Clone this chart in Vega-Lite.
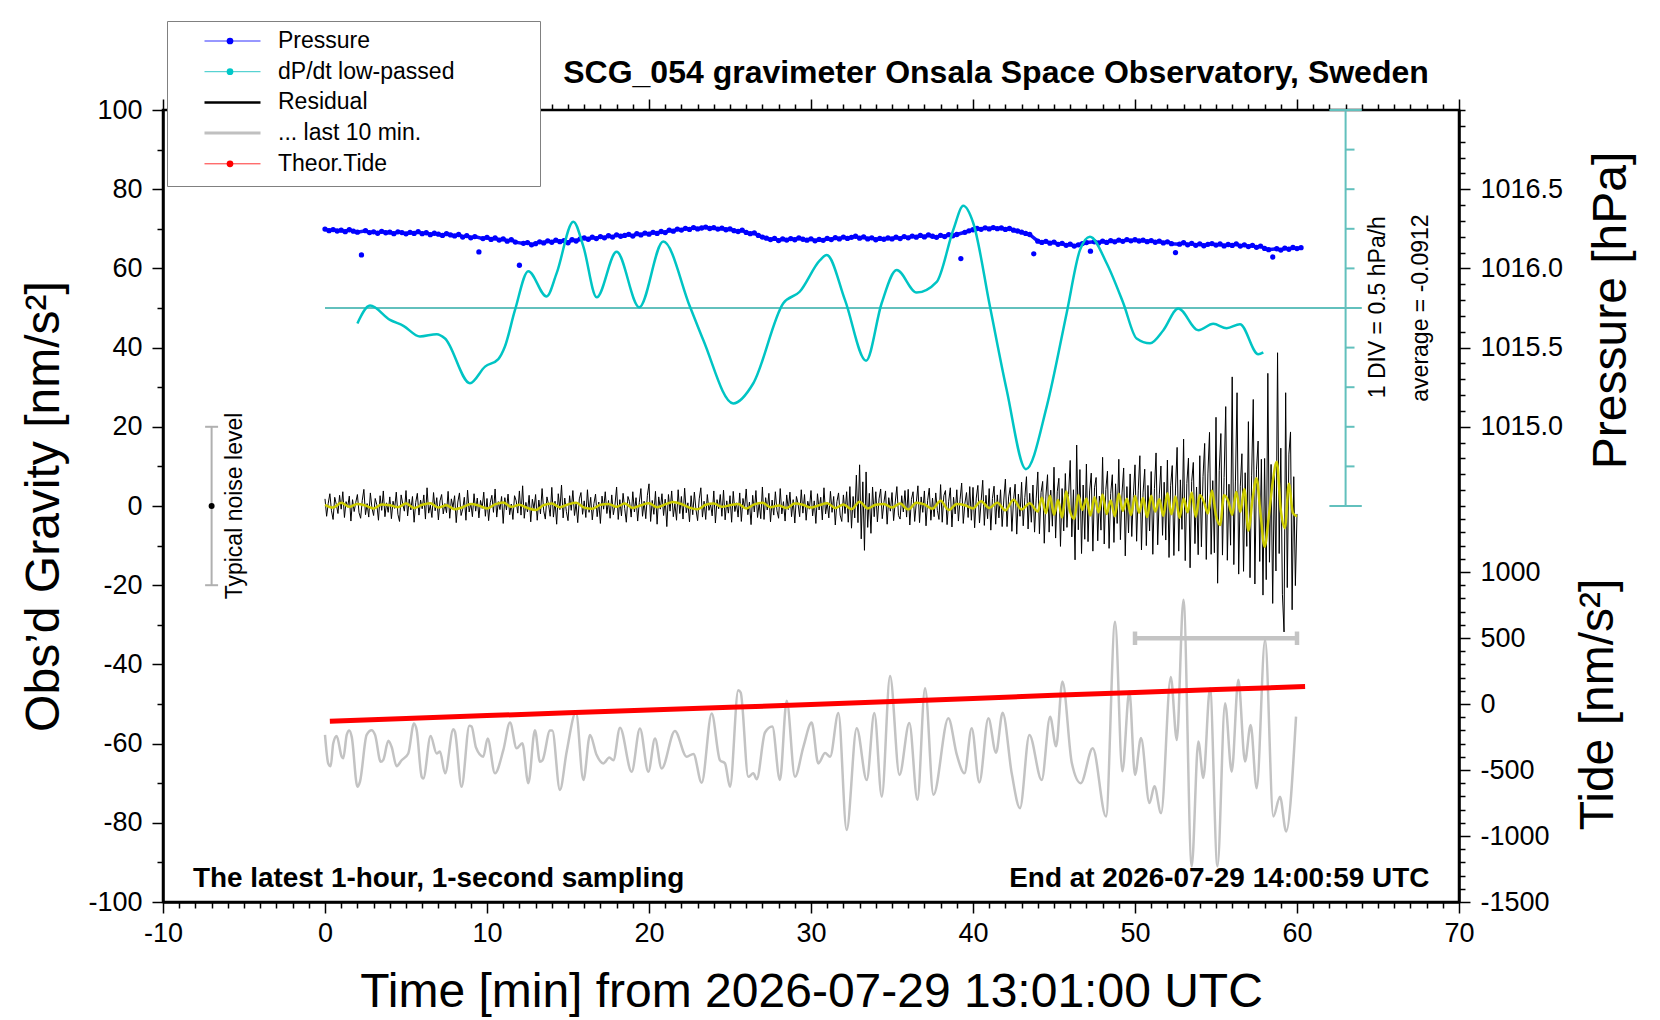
{
  "$schema": "https://vega.github.io/schema/vega-lite/v6.json",
  "width": 1296,
  "height": 792,
  "autosize": {"type": "none"},
  "padding": {"left": 163, "top": 110, "right": 201, "bottom": 118},
  "background": "white",
  "title": {
    "text": "SCG_054 gravimeter Onsala Space Observatory, Sweden",
    "font": "Liberation Sans",
    "fontSize": 32,
    "fontWeight": "bold",
    "color": "black",
    "anchor": "middle",
    "frame": "group",
    "dx": 185,
    "offset": -94.2,
    "baseline": "alphabetic"
  },
  "datasets": {
    "pressure": [
      {"t":0,"p":1016.248},{"t":0.25,"p":1016.238},{"t":0.5,"p":1016.245},{"t":0.75,"p":1016.236},{"t":1,"p":1016.241},{"t":1.25,"p":1016.232},{"t":1.5,"p":1016.244},{"t":1.75,"p":1016.235},
      {"t":2,"p":1016.229},{"t":2.25,"p":1016.085},{"t":2.5,"p":1016.238},{"t":2.75,"p":1016.226},{"t":3,"p":1016.231},{"t":3.25,"p":1016.222},{"t":3.5,"p":1016.234},{"t":3.75,"p":1016.225},
      {"t":4,"p":1016.229},{"t":4.25,"p":1016.219},{"t":4.5,"p":1016.231},{"t":4.75,"p":1016.226},{"t":5,"p":1016.218},{"t":5.25,"p":1016.228},{"t":5.5,"p":1016.221},{"t":5.75,"p":1016.232},
      {"t":6,"p":1016.219},{"t":6.25,"p":1016.225},{"t":6.5,"p":1016.213},{"t":6.75,"p":1016.222},{"t":7,"p":1016.216},{"t":7.25,"p":1016.208},{"t":7.5,"p":1016.219},{"t":7.75,"p":1016.211},
      {"t":8,"p":1016.205},{"t":8.25,"p":1016.214},{"t":8.5,"p":1016.198},{"t":8.75,"p":1016.207},{"t":9,"p":1016.193},{"t":9.25,"p":1016.201},{"t":9.5,"p":1016.104},{"t":9.75,"p":1016.188},
      {"t":10,"p":1016.196},{"t":10.25,"p":1016.183},{"t":10.5,"p":1016.192},{"t":10.75,"p":1016.179},{"t":11,"p":1016.186},{"t":11.25,"p":1016.172},{"t":11.5,"p":1016.181},{"t":11.75,"p":1016.166},
      {"t":12,"p":1016.02},{"t":12.25,"p":1016.158},{"t":12.5,"p":1016.163},{"t":12.75,"p":1016.149},{"t":13,"p":1016.156},{"t":13.25,"p":1016.168},{"t":13.5,"p":1016.161},{"t":13.75,"p":1016.174},
      {"t":14,"p":1016.165},{"t":14.25,"p":1016.178},{"t":14.5,"p":1016.169},{"t":14.75,"p":1016.176},{"t":15,"p":1016.162},{"t":15.25,"p":1016.181},{"t":15.5,"p":1016.173},{"t":15.75,"p":1016.186},
      {"t":16,"p":1016.192},{"t":16.25,"p":1016.184},{"t":16.5,"p":1016.197},{"t":16.75,"p":1016.188},{"t":17,"p":1016.201},{"t":17.25,"p":1016.193},{"t":17.5,"p":1016.206},{"t":17.75,"p":1016.198},
      {"t":18,"p":1016.212},{"t":18.25,"p":1016.203},{"t":18.5,"p":1016.208},{"t":18.75,"p":1016.215},{"t":19,"p":1016.204},{"t":19.25,"p":1016.219},{"t":19.5,"p":1016.211},{"t":19.75,"p":1016.223},
      {"t":20,"p":1016.216},{"t":20.25,"p":1016.228},{"t":20.5,"p":1016.221},{"t":20.75,"p":1016.233},{"t":21,"p":1016.226},{"t":21.25,"p":1016.241},{"t":21.5,"p":1016.235},{"t":21.75,"p":1016.248},
      {"t":22,"p":1016.242},{"t":22.25,"p":1016.253},{"t":22.5,"p":1016.246},{"t":22.75,"p":1016.258},{"t":23,"p":1016.249},{"t":23.25,"p":1016.255},{"t":23.5,"p":1016.261},{"t":23.75,"p":1016.252},
      {"t":24,"p":1016.257},{"t":24.25,"p":1016.248},{"t":24.5,"p":1016.254},{"t":24.75,"p":1016.244},{"t":25,"p":1016.249},{"t":25.25,"p":1016.238},{"t":25.5,"p":1016.233},{"t":25.75,"p":1016.241},
      {"t":26,"p":1016.227},{"t":26.25,"p":1016.219},{"t":26.5,"p":1016.224},{"t":26.75,"p":1016.208},{"t":27,"p":1016.198},{"t":27.25,"p":1016.191},{"t":27.5,"p":1016.182},{"t":27.75,"p":1016.189},
      {"t":28,"p":1016.176},{"t":28.25,"p":1016.186},{"t":28.5,"p":1016.179},{"t":28.75,"p":1016.188},{"t":29,"p":1016.181},{"t":29.25,"p":1016.192},{"t":29.5,"p":1016.184},{"t":29.75,"p":1016.178},
      {"t":30,"p":1016.187},{"t":30.25,"p":1016.174},{"t":30.5,"p":1016.183},{"t":30.75,"p":1016.177},{"t":31,"p":1016.189},{"t":31.25,"p":1016.182},{"t":31.5,"p":1016.194},{"t":31.75,"p":1016.186},
      {"t":32,"p":1016.198},{"t":32.25,"p":1016.189},{"t":32.5,"p":1016.196},{"t":32.75,"p":1016.203},{"t":33,"p":1016.191},{"t":33.25,"p":1016.199},{"t":33.5,"p":1016.186},{"t":33.75,"p":1016.193},
      {"t":34,"p":1016.181},{"t":34.25,"p":1016.189},{"t":34.5,"p":1016.184},{"t":34.75,"p":1016.192},{"t":35,"p":1016.186},{"t":35.25,"p":1016.197},{"t":35.5,"p":1016.188},{"t":35.75,"p":1016.201},
      {"t":36,"p":1016.193},{"t":36.25,"p":1016.204},{"t":36.5,"p":1016.197},{"t":36.75,"p":1016.208},{"t":37,"p":1016.199},{"t":37.25,"p":1016.211},{"t":37.5,"p":1016.203},{"t":37.75,"p":1016.196},
      {"t":38,"p":1016.209},{"t":38.25,"p":1016.201},{"t":38.5,"p":1016.213},{"t":38.75,"p":1016.206},{"t":39,"p":1016.214},{"t":39.25,"p":1016.062},{"t":39.5,"p":1016.228},{"t":39.75,"p":1016.237},
      {"t":40,"p":1016.244},{"t":40.25,"p":1016.252},{"t":40.5,"p":1016.247},{"t":40.75,"p":1016.256},{"t":41,"p":1016.249},{"t":41.25,"p":1016.258},{"t":41.5,"p":1016.251},{"t":41.75,"p":1016.255},
      {"t":42,"p":1016.246},{"t":42.25,"p":1016.252},{"t":42.5,"p":1016.241},{"t":42.75,"p":1016.236},{"t":43,"p":1016.229},{"t":43.25,"p":1016.221},{"t":43.5,"p":1016.214},{"t":43.75,"p":1016.092},
      {"t":44,"p":1016.172},{"t":44.25,"p":1016.164},{"t":44.5,"p":1016.171},{"t":44.75,"p":1016.159},{"t":45,"p":1016.166},{"t":45.25,"p":1016.152},{"t":45.5,"p":1016.158},{"t":45.75,"p":1016.146},
      {"t":46,"p":1016.153},{"t":46.25,"p":1016.141},{"t":46.5,"p":1016.149},{"t":46.75,"p":1016.157},{"t":47,"p":1016.163},{"t":47.25,"p":1016.109},{"t":47.5,"p":1016.168},{"t":47.75,"p":1016.161},
      {"t":48,"p":1016.172},{"t":48.25,"p":1016.164},{"t":48.5,"p":1016.175},{"t":48.75,"p":1016.168},{"t":49,"p":1016.179},{"t":49.25,"p":1016.171},{"t":49.5,"p":1016.182},{"t":49.75,"p":1016.174},
      {"t":50,"p":1016.181},{"t":50.25,"p":1016.173},{"t":50.5,"p":1016.178},{"t":50.75,"p":1016.169},{"t":51,"p":1016.176},{"t":51.25,"p":1016.165},{"t":51.5,"p":1016.172},{"t":51.75,"p":1016.161},
      {"t":52,"p":1016.168},{"t":52.25,"p":1016.156},{"t":52.5,"p":1016.1},{"t":52.75,"p":1016.153},{"t":53,"p":1016.162},{"t":53.25,"p":1016.149},{"t":53.5,"p":1016.158},{"t":53.75,"p":1016.146},
      {"t":54,"p":1016.155},{"t":54.25,"p":1016.143},{"t":54.5,"p":1016.152},{"t":54.75,"p":1016.157},{"t":55,"p":1016.147},{"t":55.25,"p":1016.154},{"t":55.5,"p":1016.142},{"t":55.75,"p":1016.151},
      {"t":56,"p":1016.145},{"t":56.25,"p":1016.155},{"t":56.5,"p":1016.141},{"t":56.75,"p":1016.149},{"t":57,"p":1016.138},{"t":57.25,"p":1016.146},{"t":57.5,"p":1016.133},{"t":57.75,"p":1016.141},
      {"t":58,"p":1016.126},{"t":58.25,"p":1016.118},{"t":58.5,"p":1016.072},{"t":58.75,"p":1016.124},{"t":59,"p":1016.116},{"t":59.25,"p":1016.128},{"t":59.5,"p":1016.121},{"t":59.75,"p":1016.132},
      {"t":60,"p":1016.125},{"t":60.25,"p":1016.131}
    ],
    "residual": [
      {"t":0,"g":1.8},{"t":0.1,"g":-2.6},{"t":0.2,"g":0.7},{"t":0.3,"g":3.1},{"t":0.4,"g":-1.2},{"t":0.5,"g":-3.4},{"t":0.6,"g":2.2},{"t":0.7,"g":0.4},{"t":0.8,"g":-1.9},{"t":0.9,"g":2.7},
      {"t":1,"g":-0.8},{"t":1.1,"g":3.6},{"t":1.2,"g":-2.9},{"t":1.3,"g":1.1},{"t":1.4,"g":-0.3},{"t":1.5,"g":2.5},{"t":1.6,"g":-3.8},{"t":1.7,"g":1.6},{"t":1.8,"g":-1.4},{"t":1.9,"g":0.9},
      {"t":2,"g":2.9},{"t":2.1,"g":-1.7},{"t":2.2,"g":-3.1},{"t":2.3,"g":1.4},{"t":2.4,"g":4.2},{"t":2.5,"g":-2.2},{"t":2.6,"g":0.6},{"t":2.7,"g":-2.8},{"t":2.8,"g":3.3},{"t":2.9,"g":-0.5},
      {"t":3,"g":-2.4},{"t":3.1,"g":1.9},{"t":3.2,"g":0.3},{"t":3.3,"g":-3.6},{"t":3.4,"g":2.6},{"t":3.5,"g":-1.1},{"t":3.6,"g":3.8},{"t":3.7,"g":-2.7},{"t":3.8,"g":0.8},{"t":3.9,"g":-1.6},
      {"t":4,"g":2.3},{"t":4.1,"g":-3.2},{"t":4.2,"g":1.2},{"t":4.3,"g":-0.6},{"t":4.4,"g":3.5},{"t":4.5,"g":-2.1},{"t":4.6,"g":-3.9},{"t":4.7,"g":2.8},{"t":4.8,"g":0.5},{"t":4.9,"g":-1.3},
      {"t":5,"g":3.9},{"t":5.1,"g":-2.5},{"t":5.2,"g":1.7},{"t":5.3,"g":-1.0},{"t":5.4,"g":2.4},{"t":5.5,"g":-4.1},{"t":5.6,"g":0.9},{"t":5.7,"g":3.2},{"t":5.8,"g":-2.3},{"t":5.9,"g":1.5},
      {"t":6,"g":-0.7},{"t":6.1,"g":2.8},{"t":6.2,"g":-3.3},{"t":6.3,"g":4.6},{"t":6.4,"g":-1.8},{"t":6.5,"g":0.2},{"t":6.6,"g":-2.9},{"t":6.7,"g":3.4},{"t":6.8,"g":-1.2},{"t":6.9,"g":2.1},
      {"t":7,"g":-3.5},{"t":7.1,"g":1.3},{"t":7.2,"g":2.9},{"t":7.3,"g":-2.0},{"t":7.4,"g":0.6},{"t":7.5,"g":-1.7},{"t":7.6,"g":3.7},{"t":7.7,"g":-3.1},{"t":7.8,"g":1.8},{"t":7.9,"g":-0.4},
      {"t":8,"g":2.6},{"t":8.1,"g":-4.2},{"t":8.2,"g":1.0},{"t":8.3,"g":3.3},{"t":8.4,"g":-2.4},{"t":8.5,"g":-0.8},{"t":8.6,"g":2.2},{"t":8.7,"g":-3.6},{"t":8.8,"g":4.0},{"t":8.9,"g":-1.5},
      {"t":9,"g":0.7},{"t":9.1,"g":-2.7},{"t":9.2,"g":3.1},{"t":9.3,"g":-1.3},{"t":9.4,"g":2.0},{"t":9.5,"g":-3.0},{"t":9.6,"g":1.4},{"t":9.7,"g":-0.6},{"t":9.8,"g":3.5},{"t":9.9,"g":-2.6},
      {"t":10,"g":1.9},{"t":10.1,"g":-3.7},{"t":10.2,"g":0.8},{"t":10.3,"g":2.7},{"t":10.4,"g":-1.6},{"t":10.5,"g":4.3},{"t":10.6,"g":-2.8},{"t":10.7,"g":1.1},{"t":10.8,"g":-0.9},{"t":10.9,"g":2.4},
      {"t":11,"g":-4.4},{"t":11.1,"g":2.1},{"t":11.2,"g":-1.0},{"t":11.3,"g":3.0},{"t":11.4,"g":-2.2},{"t":11.5,"g":0.5},{"t":11.6,"g":-3.4},{"t":11.7,"g":2.6},{"t":11.8,"g":1.3},{"t":11.9,"g":-1.8},
      {"t":12,"g":3.8},{"t":12.1,"g":-2.3},{"t":12.2,"g":5.1},{"t":12.3,"g":-3.1},{"t":12.4,"g":0.9},{"t":12.5,"g":-1.5},{"t":12.6,"g":2.7},{"t":12.7,"g":-4.0},{"t":12.8,"g":1.7},{"t":12.9,"g":-0.7},
      {"t":13,"g":2.9},{"t":13.1,"g":-3.6},{"t":13.2,"g":1.5},{"t":13.3,"g":-2.0},{"t":13.4,"g":4.4},{"t":13.5,"g":-1.2},{"t":13.6,"g":-3.3},{"t":13.7,"g":2.3},{"t":13.8,"g":0.4},{"t":13.9,"g":-2.6},
      {"t":14,"g":4.7},{"t":14.1,"g":-2.8},{"t":14.2,"g":1.2},{"t":14.3,"g":-4.6},{"t":14.4,"g":3.1},{"t":14.5,"g":-0.9},{"t":14.6,"g":5.3},{"t":14.7,"g":-3.0},{"t":14.8,"g":2.0},{"t":14.9,"g":-1.4},
      {"t":15,"g":-3.7},{"t":15.1,"g":2.6},{"t":15.2,"g":-1.1},{"t":15.3,"g":3.9},{"t":15.4,"g":-2.4},{"t":15.5,"g":0.7},{"t":15.6,"g":-4.2},{"t":15.7,"g":1.8},{"t":15.8,"g":3.4},{"t":15.9,"g":-2.1},
      {"t":16,"g":1.3},{"t":16.1,"g":-2.9},{"t":16.2,"g":4.1},{"t":16.3,"g":-1.6},{"t":16.4,"g":2.2},{"t":16.5,"g":-3.5},{"t":16.6,"g":0.6},{"t":16.7,"g":3.0},{"t":16.8,"g":-2.7},{"t":16.9,"g":1.0},
      {"t":17,"g":-4.4},{"t":17.1,"g":2.5},{"t":17.2,"g":-0.8},{"t":17.3,"g":3.6},{"t":17.4,"g":-1.9},{"t":17.5,"g":1.4},{"t":17.6,"g":-3.1},{"t":17.7,"g":2.8},{"t":17.8,"g":-2.2},{"t":17.9,"g":0.3},
      {"t":18,"g":4.8},{"t":18.1,"g":-3.4},{"t":18.2,"g":1.6},{"t":18.3,"g":-2.5},{"t":18.4,"g":3.2},{"t":18.5,"g":-0.6},{"t":18.6,"g":-4.1},{"t":18.7,"g":2.4},{"t":18.8,"g":1.1},{"t":18.9,"g":-2.8},
      {"t":19,"g":3.6},{"t":19.1,"g":-1.5},{"t":19.2,"g":2.1},{"t":19.3,"g":-3.8},{"t":19.4,"g":0.9},{"t":19.5,"g":4.4},{"t":19.6,"g":-2.6},{"t":19.7,"g":1.2},{"t":19.8,"g":-3.2},{"t":19.9,"g":2.7},
      {"t":20,"g":5.6},{"t":20.1,"g":-3.9},{"t":20.2,"g":1.4},{"t":20.3,"g":-2.1},{"t":20.4,"g":3.7},{"t":20.5,"g":-4.6},{"t":20.6,"g":2.3},{"t":20.7,"g":-0.8},{"t":20.8,"g":3.1},{"t":20.9,"g":-2.4},
      {"t":21,"g":1.7},{"t":21.1,"g":-5.2},{"t":21.2,"g":2.9},{"t":21.3,"g":-1.3},{"t":21.4,"g":3.8},{"t":21.5,"g":-2.7},{"t":21.6,"g":0.6},{"t":21.7,"g":-3.6},{"t":21.8,"g":4.1},{"t":21.9,"g":-1.9},
      {"t":22,"g":2.4},{"t":22.1,"g":-3.3},{"t":22.2,"g":4.5},{"t":22.3,"g":-1.7},{"t":22.4,"g":0.8},{"t":22.5,"g":-4.0},{"t":22.6,"g":2.6},{"t":22.7,"g":-2.2},{"t":22.8,"g":3.5},{"t":22.9,"g":-0.9},
      {"t":23,"g":-3.7},{"t":23.1,"g":1.8},{"t":23.2,"g":4.6},{"t":23.3,"g":-2.8},{"t":23.4,"g":1.2},{"t":23.5,"g":-3.4},{"t":23.6,"g":2.9},{"t":23.7,"g":-1.1},{"t":23.8,"g":0.5},{"t":23.9,"g":-2.5},
      {"t":24,"g":3.8},{"t":24.1,"g":-4.3},{"t":24.2,"g":1.6},{"t":24.3,"g":-0.7},{"t":24.4,"g":2.9},{"t":24.5,"g":-2.6},{"t":24.6,"g":4.0},{"t":24.7,"g":-3.5},{"t":24.8,"g":1.3},{"t":24.9,"g":-1.8},
      {"t":25,"g":2.6},{"t":25.1,"g":-4.1},{"t":25.2,"g":3.7},{"t":25.3,"g":-1.4},{"t":25.4,"g":0.8},{"t":25.5,"g":-2.8},{"t":25.6,"g":3.3},{"t":25.7,"g":-3.9},{"t":25.8,"g":1.9},{"t":25.9,"g":-0.6},
      {"t":26,"g":4.3},{"t":26.1,"g":-2.2},{"t":26.2,"g":1.0},{"t":26.3,"g":-4.7},{"t":26.4,"g":2.7},{"t":26.5,"g":-1.5},{"t":26.6,"g":3.9},{"t":26.7,"g":-2.9},{"t":26.8,"g":0.7},{"t":26.9,"g":-3.2},
      {"t":27,"g":4.8},{"t":27.1,"g":-3.4},{"t":27.2,"g":2.1},{"t":27.3,"g":-1.0},{"t":27.4,"g":3.2},{"t":27.5,"g":-4.0},{"t":27.6,"g":1.5},{"t":27.7,"g":-2.3},{"t":27.8,"g":3.6},{"t":27.9,"g":-1.2},
      {"t":28,"g":-3.1},{"t":28.1,"g":4.4},{"t":28.2,"g":-2.0},{"t":28.3,"g":1.1},{"t":28.4,"g":-3.8},{"t":28.5,"g":2.8},{"t":28.6,"g":-0.9},{"t":28.7,"g":3.5},{"t":28.8,"g":-2.7},{"t":28.9,"g":1.6},
      {"t":29,"g":-4.3},{"t":29.1,"g":2.4},{"t":29.2,"g":0.6},{"t":29.3,"g":-2.7},{"t":29.4,"g":4.1},{"t":29.5,"g":-1.8},{"t":29.6,"g":2.9},{"t":29.7,"g":-3.6},{"t":29.8,"g":1.2},{"t":29.9,"g":-0.8},
      {"t":30,"g":3.9},{"t":30.1,"g":-2.5},{"t":30.2,"g":1.3},{"t":30.3,"g":-4.4},{"t":30.4,"g":3.1},{"t":30.5,"g":-1.0},{"t":30.6,"g":2.2},{"t":30.7,"g":-3.5},{"t":30.8,"g":4.6},{"t":30.9,"g":-2.0},
      {"t":31,"g":0.9},{"t":31.1,"g":-3.0},{"t":31.2,"g":3.7},{"t":31.3,"g":-1.6},{"t":31.4,"g":2.4},{"t":31.5,"g":-4.8},{"t":31.6,"g":1.1},{"t":31.7,"g":3.3},{"t":31.8,"g":-2.3},{"t":31.9,"g":-3.9},
      {"t":32,"g":2.8},{"t":32.1,"g":-1.9},{"t":32.2,"g":3.6},{"t":32.3,"g":-4.1},{"t":32.4,"g":4.9},{"t":32.5,"g":-5.6},{"t":32.6,"g":2.4},{"t":32.7,"g":-3.0},{"t":32.8,"g":7.8},{"t":32.9,"g":-4.2},
      {"t":33,"g":10.4},{"t":33.1,"g":-8.3},{"t":33.2,"g":6.1},{"t":33.3,"g":-11.2},{"t":33.4,"g":8.6},{"t":33.5,"g":-5.4},{"t":33.6,"g":3.2},{"t":33.7,"g":-6.9},{"t":33.8,"g":4.8},{"t":33.9,"g":-2.7},
      {"t":34,"g":3.6},{"t":34.1,"g":-4.0},{"t":34.2,"g":1.8},{"t":34.3,"g":4.3},{"t":34.4,"g":-3.2},{"t":34.5,"g":0.9},{"t":34.6,"g":3.8},{"t":34.7,"g":-4.6},{"t":34.8,"g":2.1},{"t":34.9,"g":-1.3},
      {"t":35,"g":3.4},{"t":35.1,"g":-3.7},{"t":35.2,"g":1.0},{"t":35.3,"g":4.9},{"t":35.4,"g":-2.4},{"t":35.5,"g":-3.3},{"t":35.6,"g":2.6},{"t":35.7,"g":-1.5},{"t":35.8,"g":3.9},{"t":35.9,"g":-2.8},
      {"t":36,"g":4.2},{"t":36.1,"g":-4.8},{"t":36.2,"g":1.7},{"t":36.3,"g":3.6},{"t":36.4,"g":-3.9},{"t":36.5,"g":0.8},{"t":36.6,"g":5.1},{"t":36.7,"g":-4.2},{"t":36.8,"g":2.3},{"t":36.9,"g":-1.6},
      {"t":37,"g":3.8},{"t":37.1,"g":-5.0},{"t":37.2,"g":1.4},{"t":37.3,"g":4.5},{"t":37.4,"g":-3.6},{"t":37.5,"g":2.0},{"t":37.6,"g":-2.7},{"t":37.7,"g":3.3},{"t":37.8,"g":-1.1},{"t":37.9,"g":-3.4},
      {"t":38,"g":5.4},{"t":38.1,"g":-4.1},{"t":38.2,"g":2.6},{"t":38.3,"g":3.9},{"t":38.4,"g":-4.7},{"t":38.5,"g":1.2},{"t":38.6,"g":4.6},{"t":38.7,"g":-5.3},{"t":38.8,"g":2.2},{"t":38.9,"g":-2.0},
      {"t":39,"g":4.1},{"t":39.1,"g":-3.8},{"t":39.2,"g":1.6},{"t":39.3,"g":5.8},{"t":39.4,"g":-4.4},{"t":39.5,"g":0.7},{"t":39.6,"g":3.4},{"t":39.7,"g":-2.9},{"t":39.8,"g":4.9},{"t":39.9,"g":-3.6},
      {"t":40,"g":4.7},{"t":40.1,"g":-5.5},{"t":40.2,"g":2.0},{"t":40.3,"g":5.2},{"t":40.4,"g":-4.3},{"t":40.5,"g":1.1},{"t":40.6,"g":6.5},{"t":40.7,"g":-4.9},{"t":40.8,"g":2.7},{"t":40.9,"g":-3.2},
      {"t":41,"g":4.4},{"t":41.1,"g":-6.1},{"t":41.2,"g":1.9},{"t":41.3,"g":5.0},{"t":41.4,"g":-4.6},{"t":41.5,"g":2.8},{"t":41.6,"g":-3.0},{"t":41.7,"g":4.1},{"t":41.8,"g":-5.2},{"t":41.9,"g":1.5},
      {"t":42,"g":6.8},{"t":42.1,"g":-5.2},{"t":42.2,"g":2.3},{"t":42.3,"g":4.7},{"t":42.4,"g":-6.4},{"t":42.5,"g":1.4},{"t":42.6,"g":5.5},{"t":42.7,"g":-7.1},{"t":42.8,"g":3.0},{"t":42.9,"g":-2.6},
      {"t":43,"g":6.0},{"t":43.1,"g":-5.0},{"t":43.2,"g":2.1},{"t":43.3,"g":7.4},{"t":43.4,"g":-5.8},{"t":43.5,"g":3.2},{"t":43.6,"g":-4.1},{"t":43.7,"g":5.3},{"t":43.8,"g":-6.6},{"t":43.9,"g":1.8},
      {"t":44,"g":8.6},{"t":44.1,"g":-7.0},{"t":44.2,"g":3.4},{"t":44.3,"g":6.2},{"t":44.4,"g":-9.4},{"t":44.5,"g":2.5},{"t":44.6,"g":7.9},{"t":44.7,"g":-6.6},{"t":44.8,"g":4.0},{"t":44.9,"g":-5.1},
      {"t":45,"g":9.8},{"t":45.1,"g":-8.1},{"t":45.2,"g":3.6},{"t":45.3,"g":7.0},{"t":45.4,"g":-10.2},{"t":45.5,"g":4.4},{"t":45.6,"g":-6.3},{"t":45.7,"g":8.2},{"t":45.8,"g":-5.4},{"t":45.9,"g":2.9},
      {"t":46,"g":11.5},{"t":46.1,"g":-7.8},{"t":46.2,"g":4.1},{"t":46.3,"g":-13.6},{"t":46.4,"g":15.4},{"t":46.5,"g":-6.0},{"t":46.6,"g":9.2},{"t":46.7,"g":-12.0},{"t":46.8,"g":5.3},{"t":46.9,"g":-8.4},
      {"t":47,"g":10.6},{"t":47.1,"g":-9.0},{"t":47.2,"g":3.8},{"t":47.3,"g":8.3},{"t":47.4,"g":-11.4},{"t":47.5,"g":4.6},{"t":47.6,"g":7.2},{"t":47.7,"g":-8.8},{"t":47.8,"g":2.5},{"t":47.9,"g":-6.1},
      {"t":48,"g":12.3},{"t":48.1,"g":-9.6},{"t":48.2,"g":4.2},{"t":48.3,"g":8.8},{"t":48.4,"g":-10.7},{"t":48.5,"g":3.1},{"t":48.6,"g":7.9},{"t":48.7,"g":-9.2},{"t":48.8,"g":5.6},{"t":48.9,"g":-4.4},
      {"t":49,"g":11.8},{"t":49.1,"g":-8.5},{"t":49.2,"g":3.3},{"t":49.3,"g":9.6},{"t":49.4,"g":-12.6},{"t":49.5,"g":4.9},{"t":49.6,"g":-6.8},{"t":49.7,"g":8.1},{"t":49.8,"g":-7.7},{"t":49.9,"g":2.6},
      {"t":50,"g":10.4},{"t":50.1,"g":-8.9},{"t":50.2,"g":4.0},{"t":50.3,"g":12.7},{"t":50.4,"g":-11.1},{"t":50.5,"g":3.5},{"t":50.6,"g":9.3},{"t":50.7,"g":-10.0},{"t":50.8,"g":5.2},{"t":50.9,"g":-6.3},
      {"t":51,"g":8.7},{"t":51.1,"g":-12.2},{"t":51.2,"g":4.4},{"t":51.3,"g":13.4},{"t":51.4,"g":-9.8},{"t":51.5,"g":2.8},{"t":51.6,"g":10.1},{"t":51.7,"g":-7.4},{"t":51.8,"g":6.0},{"t":51.9,"g":-8.6},
      {"t":52,"g":11.6},{"t":52.1,"g":-13.0},{"t":52.2,"g":5.1},{"t":52.3,"g":10.2},{"t":52.4,"g":-12.5},{"t":52.5,"g":4.3},{"t":52.6,"g":14.8},{"t":52.7,"g":-11.4},{"t":52.8,"g":6.6},{"t":52.9,"g":-5.9},
      {"t":53,"g":16.9},{"t":53.1,"g":-13.8},{"t":53.2,"g":5.7},{"t":53.3,"g":12.1},{"t":53.4,"g":-15.6},{"t":53.5,"g":6.2},{"t":53.6,"g":11.0},{"t":53.7,"g":-9.5},{"t":53.8,"g":4.8},{"t":53.9,"g":-12.3},
      {"t":54,"g":12.7},{"t":54.1,"g":-10.3},{"t":54.2,"g":7.5},{"t":54.3,"g":15.8},{"t":54.4,"g":-13.5},{"t":54.5,"g":8.1},{"t":54.6,"g":18.6},{"t":54.7,"g":-12.2},{"t":54.8,"g":6.4},{"t":54.9,"g":-11.8},
      {"t":55,"g":22.4},{"t":55.1,"g":-19.5},{"t":55.2,"g":9.0},{"t":55.3,"g":18.3},{"t":55.4,"g":-12.4},{"t":55.5,"g":7.2},{"t":55.6,"g":25.1},{"t":55.7,"g":-13.7},{"t":55.8,"g":5.5},{"t":55.9,"g":-9.9},
      {"t":56,"g":32.6},{"t":56.1,"g":-14.8},{"t":56.2,"g":6.3},{"t":56.3,"g":28.6},{"t":56.4,"g":-17.2},{"t":56.5,"g":5.0},{"t":56.6,"g":13.2},{"t":56.7,"g":-16.5},{"t":56.8,"g":8.4},{"t":56.9,"g":-10.2},
      {"t":57,"g":21.3},{"t":57.1,"g":-18.1},{"t":57.2,"g":7.6},{"t":57.3,"g":26.9},{"t":57.4,"g":-19.7},{"t":57.5,"g":9.3},{"t":57.6,"g":16.4},{"t":57.7,"g":-14.0},{"t":57.8,"g":11.8},{"t":57.9,"g":-22.5},
      {"t":58,"g":12.0},{"t":58.1,"g":-18.6},{"t":58.2,"g":33.5},{"t":58.3,"g":-14.2},{"t":58.4,"g":10.5},{"t":58.5,"g":-24.6},{"t":58.6,"g":8.2},{"t":58.7,"g":-16.4},{"t":58.8,"g":38.7},{"t":58.9,"g":-12.0},
      {"t":59,"g":14.6},{"t":59.1,"g":-22.3},{"t":59.2,"g":-31.8},{"t":59.3,"g":28.6},{"t":59.4,"g":-20.6},{"t":59.5,"g":13.1},{"t":59.6,"g":18.7},{"t":59.7,"g":-26.2},{"t":59.8,"g":7.4},{"t":59.9,"g":-20.1},
      {"t":60,"g":-2.0}
    ],
    "lowpass": [
      {"t":0,"g":0.3},{"t":0.5,"g":-0.4},{"t":1,"g":0.8},{"t":1.5,"g":-0.2},{"t":2,"g":0.5},{"t":2.5,"g":0.1},{"t":3,"g":-0.6},{"t":3.5,"g":0.4},{"t":4,"g":0.2},{"t":4.5,"g":-0.3},
      {"t":5,"g":0.6},{"t":5.5,"g":-0.5},{"t":6,"g":0.3},{"t":6.5,"g":0.7},{"t":7,"g":-0.4},{"t":7.5,"g":0.2},{"t":8,"g":-0.8},{"t":8.5,"g":-0.3},{"t":9,"g":0.5},{"t":9.5,"g":0.1},
      {"t":10,"g":-0.6},{"t":10.5,"g":0.4},{"t":11,"g":0.9},{"t":11.5,"g":-0.2},{"t":12,"g":0.3},{"t":12.5,"g":-0.5},{"t":13,"g":-1.0},{"t":13.5,"g":0.2},{"t":14,"g":0.6},{"t":14.5,"g":-0.3},
      {"t":15,"g":0.4},{"t":15.5,"g":0.8},{"t":16,"g":-0.4},{"t":16.5,"g":-0.7},{"t":17,"g":0.3},{"t":17.5,"g":0.5},{"t":18,"g":-0.2},{"t":18.5,"g":0.6},{"t":19,"g":-0.5},{"t":19.5,"g":0.2},
      {"t":20,"g":0.7},{"t":20.5,"g":-0.3},{"t":21,"g":0.4},{"t":21.5,"g":1.0},{"t":22,"g":0.5},{"t":22.5,"g":-0.4},{"t":23,"g":-0.8},{"t":23.5,"g":0.3},{"t":24,"g":0.6},{"t":24.5,"g":-0.2},
      {"t":25,"g":0.2},{"t":25.5,"g":0.5},{"t":26,"g":-0.6},{"t":26.5,"g":0.4},{"t":27,"g":0.8},{"t":27.5,"g":-0.3},{"t":28,"g":0.1},{"t":28.5,"g":-0.5},{"t":29,"g":0.6},{"t":29.5,"g":0.3},
      {"t":30,"g":-0.4},{"t":30.5,"g":0.2},{"t":31,"g":0.7},{"t":31.5,"g":-0.5},{"t":32,"g":0.4},{"t":32.5,"g":-0.8},{"t":33,"g":1.1},{"t":33.5,"g":-0.6},{"t":34,"g":0.3},{"t":34.5,"g":0.5},
      {"t":35,"g":-0.4},{"t":35.5,"g":0.6},{"t":36,"g":-0.9},{"t":36.5,"g":0.8},{"t":37,"g":0.4},{"t":37.5,"g":-0.7},{"t":38,"g":1.3},{"t":38.5,"g":-1.0},{"t":39,"g":0.5},{"t":39.5,"g":0.2},
      {"t":40,"g":-0.6},{"t":40.5,"g":1.2},{"t":41,"g":-0.5},{"t":41.5,"g":0.8},{"t":42,"g":-1.1},{"t":42.5,"g":1.6},{"t":43,"g":-0.9},{"t":43.5,"g":0.7},{"t":44,"g":-1.4},
      {"t":44.25,"g":2.1},{"t":44.5,"g":-1.8},{"t":44.75,"g":2.6},{"t":45,"g":-2.2},{"t":45.25,"g":1.5},{"t":45.5,"g":-2.9},{"t":45.75,"g":3.7},{"t":46,"g":-1.5},
      {"t":46.25,"g":-3.2},{"t":46.5,"g":2.8},{"t":46.75,"g":-1.0},{"t":47,"g":1.9},{"t":47.25,"g":-2.4},{"t":47.5,"g":2.2},{"t":47.75,"g":-1.6},{"t":48,"g":2.9},
      {"t":48.25,"g":-2.0},{"t":48.5,"g":1.4},{"t":48.75,"g":-2.6},{"t":49,"g":3.1},{"t":49.25,"g":-1.2},{"t":49.5,"g":1.8},{"t":49.75,"g":-2.3},{"t":50,"g":2.5},
      {"t":50.25,"g":-1.7},{"t":50.5,"g":2.0},{"t":50.75,"g":-2.8},{"t":51,"g":2.6},{"t":51.25,"g":-1.4},{"t":51.5,"g":1.7},{"t":51.75,"g":-2.5},{"t":52,"g":3.2},
      {"t":52.25,"g":-2.1},{"t":52.5,"g":2.4},{"t":52.75,"g":-3.0},{"t":53,"g":1.9},{"t":53.25,"g":-1.6},{"t":53.5,"g":3.4},{"t":53.75,"g":-2.7},{"t":54,"g":2.8},
      {"t":54.25,"g":1.1},{"t":54.5,"g":-1.9},{"t":54.75,"g":3.9},{"t":55,"g":-2.4},{"t":55.25,"g":-4.8},{"t":55.5,"g":2.7},{"t":55.75,"g":1.3},{"t":56,"g":-2.2},
      {"t":56.25,"g":3.6},{"t":56.5,"g":-1.5},{"t":56.75,"g":4.3},{"t":57,"g":-6.2},{"t":57.25,"g":1.5},{"t":57.5,"g":7.0},{"t":57.75,"g":-2.0},{"t":58,"g":-10.3},
      {"t":58.25,"g":-3.0},{"t":58.5,"g":6.0},{"t":58.75,"g":11.2},{"t":59,"g":-1.0},{"t":59.25,"g":-5.6},{"t":59.5,"g":5.6},{"t":59.75,"g":-1.8},{"t":60,"g":-2.6}
    ],
    "last10": [
      {"t":0.0,"g":-57.8},{"t":0.2,"g":-65.0},{"t":0.35,"g":-65.7},{"t":0.51,"g":-59.9},{"t":0.72,"g":-58.1},{"t":1.03,"g":-63.3},{"t":1.13,"g":-63.7},{"t":1.34,"g":-57.8},{"t":1.5,"g":-56.7},{"t":1.65,"g":-58.3},
      {"t":2.0,"g":-70.9},{"t":2.16,"g":-69.6},{"t":2.57,"g":-57.8},{"t":2.88,"g":-56.6},{"t":3.09,"g":-57.8},{"t":3.44,"g":-64.6},{"t":3.6,"g":-64.1},{"t":3.91,"g":-59.3},{"t":4.11,"g":-60.8},{"t":4.42,"g":-65.7},
      {"t":4.73,"g":-64.2},{"t":5.14,"g":-62.5},{"t":5.49,"g":-54.9},{"t":5.66,"g":-56.6},{"t":5.97,"g":-68.4},{"t":6.07,"g":-68.8},{"t":6.52,"g":-58.1},{"t":6.89,"g":-62.5},{"t":7.1,"g":-62.0},{"t":7.41,"g":-67.5},
      {"t":7.92,"g":-56.4},{"t":8.02,"g":-57.0},{"t":8.43,"g":-70.9},{"t":8.91,"g":-55.5},{"t":9.05,"g":-55.7},{"t":9.32,"g":-61.0},{"t":9.77,"g":-63.3},{"t":10.04,"g":-58.7},{"t":10.49,"g":-67.5},{"t":11.01,"g":-61.6},
      {"t":11.42,"g":-54.7},{"t":11.83,"g":-61.2},{"t":12.18,"g":-59.9},{"t":12.55,"g":-70.0},{"t":12.96,"g":-56.6},{"t":13.27,"g":-64.6},{"t":13.43,"g":-64.2},{"t":13.89,"g":-56.7},{"t":14.03,"g":-56.7},{"t":14.5,"g":-71.7},
      {"t":14.92,"g":-62.0},{"t":15.49,"g":-52.1},{"t":15.95,"g":-69.2},{"t":16.36,"g":-57.8},{"t":16.77,"g":-62.9},{"t":17.18,"g":-65.0},{"t":17.55,"g":-63.5},{"t":17.8,"g":-64.2},{"t":18.21,"g":-56.0},{"t":18.93,"g":-67.1},
      {"t":19.44,"g":-56.2},{"t":19.96,"g":-67.1},{"t":20.37,"g":-58.7},{"t":20.78,"g":-66.3},{"t":21.6,"g":-56.8},{"t":22.32,"g":-63.3},{"t":22.74,"g":-62.6},{"t":23.25,"g":-69.9},{"t":23.87,"g":-52.4},{"t":24.38,"g":-64.2},
      {"t":24.69,"g":-65.0},{"t":25.0,"g":-70.9},{"t":25.51,"g":-46.5},{"t":25.66,"g":-47.1},{"t":26.13,"g":-68.4},{"t":26.44,"g":-67.5},{"t":26.65,"g":-69.0},{"t":27.16,"g":-57.2},{"t":27.61,"g":-55.7},{"t":28.08,"g":-69.2},
      {"t":28.5,"g":-49.2},{"t":29.01,"g":-68.4},{"t":29.53,"g":-60.8},{"t":30.04,"g":-54.7},{"t":30.45,"g":-65.0},{"t":30.87,"g":-62.4},{"t":31.18,"g":-63.3},{"t":31.69,"g":-52.3},{"t":32.2,"g":-81.8},{"t":32.82,"g":-56.1},
      {"t":33.44,"g":-69.2},{"t":33.91,"g":-52.3},{"t":34.37,"g":-73.4},{"t":34.88,"g":-42.9},{"t":35.46,"g":-67.9},{"t":36.07,"g":-54.8},{"t":36.57,"g":-74.2},{"t":37.04,"g":-46.0},{"t":37.56,"g":-72.9},{"t":38.48,"g":-53.6},
      {"t":39.0,"g":-62.8},{"t":39.47,"g":-67.5},{"t":39.92,"g":-56.1},{"t":40.39,"g":-69.8},{"t":40.95,"g":-53.6},{"t":41.42,"g":-62.3},{"t":41.83,"g":-52.2},{"t":42.39,"g":-67.5},{"t":42.9,"g":-76.3},{"t":43.48,"g":-57.8},
      {"t":44.24,"g":-69.2},{"t":44.76,"g":-53.2},{"t":45.13,"g":-60.7},{"t":45.52,"g":-44.3},{"t":46.1,"g":-64.9},{"t":46.65,"g":-70.0},{"t":47.39,"g":-61.2},{"t":48.21,"g":-78.4},{"t":48.77,"g":-29.2},{"t":49.22,"g":-67.0},
      {"t":49.65,"g":-46.8},{"t":50.0,"g":-67.9},{"t":50.37,"g":-58.6},{"t":50.89,"g":-75.0},{"t":51.2,"g":-70.8},{"t":51.61,"g":-77.6},{"t":52.21,"g":-43.2},{"t":52.58,"g":-59.1},{"t":52.99,"g":-23.7},{"t":53.5,"g":-91.0},
      {"t":53.91,"g":-59.5},{"t":54.22,"g":-68.7},{"t":54.63,"g":-46.0},{"t":55.09,"g":-91.0},{"t":55.56,"g":-49.8},{"t":55.97,"g":-67.1},{"t":56.38,"g":-43.9},{"t":56.79,"g":-64.5},{"t":57.14,"g":-55.3},{"t":57.51,"g":-71.3},
      {"t":58.03,"g":-33.8},{"t":58.54,"g":-78.4},{"t":58.95,"g":-73.4},{"t":59.33,"g":-82.2},{"t":59.94,"g":-53.2}
    ],
    "dpdt": [
      {"t":2.0,"g":46.1},{"t":2.78,"g":50.6},{"t":4.01,"g":47.0},{"t":4.84,"g":45.5},{"t":5.86,"g":42.8},{"t":6.9,"g":43.4},{"t":7.41,"g":42.3},{"t":8.95,"g":31.0},{"t":9.88,"g":35.2},{"t":10.7,"g":37.1},
      {"t":11.1,"g":40.2},{"t":11.73,"g":49.5},{"t":12.55,"g":59.3},{"t":13.68,"g":52.9},{"t":14.3,"g":58.8},{"t":15.33,"g":71.8},{"t":15.95,"g":65.5},{"t":16.77,"g":52.7},{"t":18.0,"g":64.2},{"t":19.4,"g":50.2},
      {"t":20.88,"g":66.8},{"t":22.53,"g":50.3},{"t":23.35,"g":41.9},{"t":25.2,"g":25.9},{"t":26.44,"g":31.0},{"t":28.29,"g":51.2},{"t":29.3,"g":54.1},{"t":30.56,"g":62.1},{"t":30.97,"g":63.4},{"t":32.1,"g":52.0},
      {"t":33.4,"g":36.7},{"t":34.36,"g":51.2},{"t":35.29,"g":59.6},{"t":36.52,"g":53.9},{"t":37.76,"g":56.6},{"t":38.78,"g":69.7},{"t":39.4,"g":75.8},{"t":40.02,"g":71.4},{"t":41.05,"g":50.3},{"t":42.08,"g":29.3},
      {"t":43.27,"g":9.3},{"t":44.55,"g":25.1},{"t":45.78,"g":48.7},{"t":46.6,"g":64.6},{"t":47.22,"g":68.0},{"t":48.25,"g":61.3},{"t":49.28,"g":51.2},{"t":50.1,"g":42.3},{"t":50.93,"g":41.1},{"t":51.75,"g":44.4},
      {"t":52.67,"g":49.9},{"t":53.91,"g":44.4},{"t":54.83,"g":46.0},{"t":55.66,"g":44.9},{"t":56.48,"g":45.9},{"t":57.61,"g":38.3},{"t":57.92,"g":38.8}
    ],
    "tide": [
      {"t":0.3,"nm":-131},{"t":5,"nm":-110},{"t":10,"nm":-88},{"t":15,"nm":-67},{"t":20,"nm":-46},{"t":25,"nm":-25},{"t":30,"nm":-4},
      {"t":35,"nm":19},{"t":40,"nm":42},{"t":45,"nm":66},{"t":50,"nm":88},{"t":55,"nm":110},{"t":60.5,"nm":132}
    ],
    "dpdtScale": [
      {"t":63,"t2":63,"g":0,"g2":100},
      {"t":62,"t2":64,"g":0,"g2":0},
      {"t":62,"t2":64,"g":100,"g2":100},
      {"t":63,"t2":63.55,"g":10,"g2":10},
      {"t":63,"t2":63.55,"g":20,"g2":20},
      {"t":63,"t2":63.55,"g":30,"g2":30},
      {"t":63,"t2":63.55,"g":40,"g2":40},
      {"t":63,"t2":63.55,"g":60,"g2":60},
      {"t":63,"t2":63.55,"g":70,"g2":70},
      {"t":63,"t2":63.55,"g":80,"g2":80},
      {"t":63,"t2":63.55,"g":90,"g2":90},
      {"t":0,"t2":64,"g":50,"g2":50}
    ],
    "noiseBar": [
      {"t":-7,"t2":-7,"g":-20,"g2":20},
      {"t":-7.4,"t2":-6.6,"g":20,"g2":20},
      {"t":-7.4,"t2":-6.6,"g":-20,"g2":-20}
    ],
    "tenMinBar": [
      {"t":50,"t2":60,"g":-33.4,"g2":-33.4},
      {"t":50,"t2":50,"g":-31.7,"g2":-35.1},
      {"t":60,"t2":60,"g":-31.7,"g2":-35.1}
    ],
    "sideNotes": [
      {"t":-5.56,"g":0,"label":"Typical noise level"},
      {"t":65.0,"g":50.2,"label":"1 DIV = 0.5 hPa/h"},
      {"t":67.65,"g":50,"label":"average = -0.0912"}
    ]
  },
  "layer": [
    {
      "data": {"name": "pressure"},
      "encoding": {
        "x": {"field": "t", "type": "quantitative", "scale": {"domain": [-10, 70], "nice": false, "zero": false}, "axis": null},
        "y": {
          "field": "p",
          "type": "quantitative",
          "scale": {"domain": [1012, 1017], "nice": false, "zero": false},
          "axis": {
            "orient": "right",
            "values": [1014.5, 1014.6, 1014.7, 1014.8, 1014.9, 1015.0, 1015.1, 1015.2, 1015.3, 1015.4, 1015.5, 1015.6, 1015.7, 1015.8, 1015.9, 1016.0, 1016.1, 1016.2, 1016.3, 1016.4, 1016.5, 1016.6, 1016.7, 1016.8, 1016.9, 1017.0],
            "labelExpr": "datum.value > 1014.9 && datum.value < 1016.6 && abs(datum.value * 2 - round(datum.value * 2)) < 0.01 ? format(datum.value, '.1f') : ''",
            "tickSize": {"condition": {"test": "datum.value > 1014.9 && datum.value < 1016.6 && abs(datum.value * 2 - round(datum.value * 2)) < 0.01", "value": 11}, "value": 6},
            "labelPadding": 10,
            "title": "Pressure [hPa]",
            "titleAngle": 270,
            "titleX": 166,
            "titleY": 200,
            "titleAlign": "center",
            "titleBaseline": "alphabetic"
          }
        }
      },
      "layer": [
        {
          "transform": [{"filter": "datum.p >= 1016.112"}],
          "mark": {"type": "line", "color": "#1010ff", "strokeWidth": 3.5}
        },
        {
          "mark": {"type": "point", "filled": true, "size": 28, "opacity": 1, "strokeWidth": 0},
          "encoding": {
            "fill": {
              "datum": "Pressure",
              "type": "nominal",
              "scale": {"domain": ["Pressure", "dP/dt", "Res", "Last10", "Theor.Tide"], "range": ["#0000ff", "#00c8c8", "transparent", "transparent", "#ff0000"]},
              "legend": {
                "title": null,
                "orient": "none",
                "legendX": 4,
                "legendY": -89,
                "zindex": 2,
                "symbolType": "circle",
                "symbolSize": 45,
                "symbolOffset": 41.5,
                "symbolStrokeWidth": 0,
                "labelFontSize": 23,
                "labelExpr": "''",
                "padding": 10,
                "rowPadding": 7.7,
                "clipHeight": 20
              }
            }
          }
        }
      ]
    },
    {
      "encoding": {
        "x": {
          "field": "t",
          "type": "quantitative",
          "scale": {"domain": [-10, 70], "nice": false, "zero": false},
          "axis": {
            "orient": "bottom",
            "values": [-10, -9, -8, -7, -6, -5, -4, -3, -2, -1, 0, 1, 2, 3, 4, 5, 6, 7, 8, 9, 10, 11, 12, 13, 14, 15, 16, 17, 18, 19, 20, 21, 22, 23, 24, 25, 26, 27, 28, 29, 30, 31, 32, 33, 34, 35, 36, 37, 38, 39, 40, 41, 42, 43, 44, 45, 46, 47, 48, 49, 50, 51, 52, 53, 54, 55, 56, 57, 58, 59, 60, 61, 62, 63, 64, 65, 66, 67, 68, 69, 70],
            "labelExpr": "datum.value % 10 === 0 ? '' + datum.value : ''",
            "tickSize": {"condition": {"test": "datum.value % 10 === 0", "value": 11}, "value": 6},
            "labelPadding": 7,
            "title": "Time [min] from 2026-07-29 13:01:00 UTC",
            "titleX": 648,
            "titleY": 104,
            "titleAlign": "center",
            "titleBaseline": "alphabetic"
          }
        },
        "y": {
          "field": "g",
          "type": "quantitative",
          "scale": {"domain": [-100, 100], "nice": false, "zero": false},
          "axis": {
            "orient": "left",
            "values": [-100, -90, -80, -70, -60, -50, -40, -30, -20, -10, 0, 10, 20, 30, 40, 50, 60, 70, 80, 90, 100],
            "labelExpr": "datum.value % 20 === 0 ? '' + datum.value : ''",
            "tickSize": {"condition": {"test": "datum.value % 20 === 0", "value": 11}, "value": 6},
            "labelPadding": 10,
            "title": "Obs’d Gravity [nm/s²]",
            "titleAngle": 270,
            "titleX": -105,
            "titleY": 396,
            "titleAlign": "center",
            "titleBaseline": "alphabetic"
          }
        }
      },
      "layer": [
        {
          "data": {"name": "dpdtScale"},
          "mark": {"type": "rule", "color": "#62c0bd", "strokeWidth": 2},
          "encoding": {"x2": {"field": "t2"}, "y2": {"field": "g2"}}
        },
        {
          "data": {"name": "noiseBar"},
          "mark": {"type": "rule", "color": "#b0b0b0", "strokeWidth": 2},
          "encoding": {"x2": {"field": "t2"}, "y2": {"field": "g2"}}
        },
        {
          "data": {"values": [{"t": -7, "g": 0}]},
          "mark": {"type": "point", "filled": true, "color": "black", "size": 36, "opacity": 1}
        },
        {
          "data": {"name": "tenMinBar"},
          "mark": {"type": "rule", "color": "#c4c4c4", "strokeWidth": 4.5},
          "encoding": {"x2": {"field": "t2"}, "y2": {"field": "g2"}}
        },
        {
          "data": {"name": "last10"},
          "mark": {"type": "line", "color": "#c3c3c3", "strokeWidth": 2.5, "interpolate": "monotone"}
        },
        {
          "data": {"name": "residual"},
          "mark": {"type": "line", "color": "black", "strokeWidth": 1}
        },
        {
          "data": {"name": "lowpass"},
          "mark": {"type": "line", "color": "#cccc00", "strokeWidth": 2.5, "interpolate": "monotone"}
        },
        {
          "data": {"name": "dpdt"},
          "mark": {"type": "line", "color": "#00c4c4", "strokeWidth": 2.5, "interpolate": "monotone"}
        },
        {
          "data": {"name": "sideNotes"},
          "mark": {"type": "text", "angle": 270, "fontSize": 23, "font": "Liberation Sans", "color": "black", "align": "center", "baseline": "middle"},
          "encoding": {"text": {"field": "label"}}
        },
        {
          "data": {"values": [{"t": -8.15, "g": -96.3, "label": "The latest 1-hour, 1-second sampling"}]},
          "mark": {"type": "text", "fontSize": 27.9, "fontWeight": "bold", "font": "Liberation Sans", "color": "black", "align": "left", "baseline": "alphabetic"},
          "encoding": {"text": {"field": "label"}}
        },
        {
          "data": {"values": [{"t": 68.17, "g": -96.3, "label": "End at 2026-07-29 14:00:59 UTC"}]},
          "mark": {"type": "text", "fontSize": 27.9, "fontWeight": "bold", "font": "Liberation Sans", "color": "black", "align": "right", "baseline": "alphabetic"},
          "encoding": {"text": {"field": "label"}}
        },
        {
          "data": {"values": []},
          "mark": {"type": "line"},
          "encoding": {
            "color": {
              "field": "s",
              "type": "nominal",
              "scale": {"domain": ["Pressure", "dP/dt low-passed", "Residual", "... last 10 min.", "Theor.Tide"], "range": ["#3030ff", "#30c8c8", "#000000", "#c0c0c0", "#ff3030"]},
              "legend": {
                "title": null,
                "orient": "none",
                "legendX": 4,
                "legendY": -89,
                "zindex": 1,
                "symbolType": "stroke",
                "symbolSize": 3136,
                "symbolOffset": 26,
                "labelOffset": 16,
                "labelFontSize": 23,
                "labelFont": "Liberation Sans",
                "labelColor": "black",
                "labelLimit": 600,
                "labelExpr": "datum.label + '\u00a0\u00a0\u00a0\u00a0\u00a0\u00a0\u00a0\u00a0\u00a0\u00a0\u00a0\u2009\u200b'",
                "padding": 10,
                "rowPadding": 7.7,
                "clipHeight": 20,
                "strokeColor": "#808080",
                "fillColor": "white"
              }
            },
            "strokeWidth": {
              "field": "s",
              "type": "nominal",
              "scale": {"type": "ordinal", "domain": ["Pressure", "dP/dt low-passed", "Residual", "... last 10 min.", "Theor.Tide"], "range": [1, 1, 2.5, 3, 1]}
            }
          }
        }
      ]
    },
    {
      "data": {"name": "tide"},
      "mark": {"type": "line", "color": "#ff0000", "strokeWidth": 5},
      "encoding": {
        "x": {
          "field": "t",
          "type": "quantitative",
          "scale": {"domain": [-10, 70], "nice": false, "zero": false},
          "axis": {
            "orient": "top",
            "values": [-10, -9, -8, -7, -6, -5, -4, -3, -2, -1, 0, 1, 2, 3, 4, 5, 6, 7, 8, 9, 10, 11, 12, 13, 14, 15, 16, 17, 18, 19, 20, 21, 22, 23, 24, 25, 26, 27, 28, 29, 30, 31, 32, 33, 34, 35, 36, 37, 38, 39, 40, 41, 42, 43, 44, 45, 46, 47, 48, 49, 50, 51, 52, 53, 54, 55, 56, 57, 58, 59, 60, 61, 62, 63, 64, 65, 66, 67, 68, 69, 70],
            "labels": false,
            "domain": false,
            "title": null,
            "tickSize": {"condition": {"test": "datum.value % 10 === 0", "value": 11}, "value": 6}
          }
        },
        "y": {
          "field": "nm",
          "type": "quantitative",
          "scale": {"domain": [-1500, 4500], "nice": false, "zero": false},
          "axis": {
            "orient": "right",
            "values": [-1500, -1400, -1300, -1200, -1100, -1000, -900, -800, -700, -600, -500, -400, -300, -200, -100, 0, 100, 200, 300, 400, 500, 600, 700, 800, 900, 1000, 1100, 1200, 1300, 1400],
            "labelExpr": "datum.value % 500 === 0 ? '' + datum.value : ''",
            "tickSize": {"condition": {"test": "datum.value % 500 === 0", "value": 11}, "value": 6},
            "labelPadding": 10,
            "domain": false,
            "title": "Tide [nm/s²]",
            "titleAngle": 270,
            "titleX": 153,
            "titleY": 594,
            "titleAlign": "center",
            "titleBaseline": "alphabetic"
          }
        }
      }
    }
  ],
  "resolve": {
    "scale": {"y": "independent"},
    "axis": {"x": "independent", "y": "independent"}
  },
  "config": {
    "font": "Liberation Sans",
    "view": {"stroke": "black", "strokeWidth": 2.5},
    "axis": {
      "labelFont": "Liberation Sans",
      "labelFontSize": 27,
      "labelColor": "black",
      "labelOverlap": false,
      "labelFlush": false,
      "labelBound": false,
      "tickColor": "black",
      "tickWidth": 1.5,
      "domainColor": "black",
      "domainWidth": 2.5,
      "grid": false,
      "titleFont": "Liberation Sans",
      "titleFontSize": 48,
      "titleFontWeight": "normal",
      "titleColor": "black"
    }
  }
}
